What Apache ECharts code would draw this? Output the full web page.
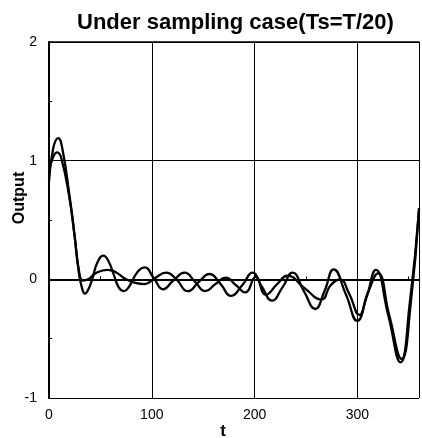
<!DOCTYPE html>
<html>
<head>
<meta charset="utf-8">
<script src="https://cdn.jsdelivr.net/npm/echarts@6/dist/echarts.min.js"></script>
<style>
  html, body { margin: 0; padding: 0; background: #fff; }
  #chart { width: 422px; height: 438px; }
</style>
</head>
<body>
<div id="chart"></div>
<script>
  // curve with the bigger first peak
  var tA = [0, 4, 9, 13, 20, 25, 29, 32, 35, 38, 42, 47, 53, 58, 63, 68, 73, 78, 83, 88, 93,
    102, 111, 121, 132, 142, 152, 162, 172, 182, 191, 201, 211, 222, 232, 248, 265, 274,
    283, 292, 302, 310, 320, 331, 343, 352, 360]
  var yA = [0.82, 1.10, 1.19, 1.10, 0.70, 0.36, 0.06, -0.07, -0.12, -0.09, 0.00, 0.14, 0.20, 0.15,
    0.04, -0.07, -0.10, -0.06, 0.02, 0.08, 0.10,
    0.01, -0.084, -0.01, 0.056, -0.02, -0.10, -0.04, 0.014, -0.05, -0.11, 0.02, -0.13, -0.04,
    0.03, -0.07, -0.17, -0.05, 0.00, -0.12, -0.30, -0.12, 0.05, -0.30, -0.67, -0.20, 0.60]

  // curve with the smaller first peak
  var tB = [0, 4, 8, 12, 20, 25, 29, 33, 38, 45, 57, 65, 75, 84, 93, 103, 114, 124, 135, 146,
    156, 167, 177, 188, 198, 207, 217, 227, 237, 248, 259, 268, 277, 289, 300, 309, 318,
    330, 342, 351, 360]
  var yB = [0.90, 1.03, 1.07, 1.02, 0.68, 0.36, 0.08, -0.01, 0.00, 0.05, 0.08, 0.06, 0.00, -0.03,
    -0.04, 0.01, 0.056, 0.00, -0.10, -0.02, 0.045, -0.04, -0.14, -0.05, 0.056, -0.06, -0.18,
    -0.07, 0.056, -0.10, -0.25, -0.10, 0.084, -0.13, -0.35, -0.15, 0.08, -0.30, -0.70, -0.20, 0.58]

  var xTicks = [0, 100, 200, 300]
  var yTicks = [-1, 0, 1, 2]

  function pairs(ts, ys) {
    return ts.map(function (t, i) { return [t, ys[i]] })
  }

  var chart = echarts.init(document.getElementById('chart'))
  var tickFont = { color: '#000', fontSize: 14, fontFamily: 'Liberation Sans' }

  var option = {
    backgroundColor: '#fff',
    animation: false,
    title: {
      text: 'Under sampling case(Ts=T/20)',
      left: 72,
      top: 7,
      textStyle: { color: '#000', fontSize: 22, fontWeight: 'bold', fontFamily: 'Liberation Sans' }
    },
    grid: { left: 49, right: 1, top: 42, bottom: 40 },
    xAxis: [{
      type: 'value',
      min: 0,
      max: 360,
      interval: 100,
      axisLine: { lineStyle: { color: '#000', width: 2 } },
      axisTick: { inside: true, length: 4, lineStyle: { color: '#000' } },
      minorTick: { show: true, splitNumber: 2, length: 3, lineStyle: { color: '#000' } },
      splitLine: { show: true, lineStyle: { color: '#000', width: 1 } },
      axisLabel: Object.assign({ margin: 10, formatter: function (v) { return xTicks.indexOf(v) >= 0 ? v : '' } }, tickFont)
    }, {
      type: 'value',
      position: 'top',
      min: 0,
      max: 360,
      interval: 100,
      axisLine: { lineStyle: { color: '#000', width: 1.5 } },
      axisTick: { inside: true, length: 4, lineStyle: { color: '#000' } },
      axisLabel: { show: false },
      splitLine: { show: false }
    }],
    yAxis: {
      type: 'value',
      min: -1,
      max: 2,
      interval: 1,
      axisLine: { show: true, lineStyle: { color: '#000', width: 2 } },
      axisTick: { show: true, inside: true, length: 4, lineStyle: { color: '#000' } },
      minorTick: { show: true, splitNumber: 2, length: 3, lineStyle: { color: '#000' } },
      splitLine: { show: true, lineStyle: { color: '#000', width: 1 } },
      axisLabel: Object.assign({ margin: 12, formatter: function (v) { return yTicks.indexOf(v) >= 0 ? v : '' } }, tickFont)
    },
    graphic: [{
      type: 'text',
      x: 20,
      y: 198,
      rotation: Math.PI / 2,
      style: { text: 'Output', fill: '#000', font: 'bold 16px "Liberation Sans"', align: 'center', verticalAlign: 'middle' }
    }, {
      type: 'text',
      x: 223,
      y: 431,
      style: { text: 't', fill: '#000', font: 'bold 17px "Liberation Sans"', align: 'center', verticalAlign: 'middle' }
    }],
    series: [{
      type: 'line',
      data: pairs(tA, yA),
      smooth: 0.5,
      showSymbol: false,
      lineStyle: { color: '#000', width: 2.3 }
    }, {
      type: 'line',
      data: pairs(tB, yB),
      smooth: 0.5,
      showSymbol: false,
      lineStyle: { color: '#000', width: 2.3 }
    }]
  }
  chart.setOption(option)
</script>
</body>
</html>
